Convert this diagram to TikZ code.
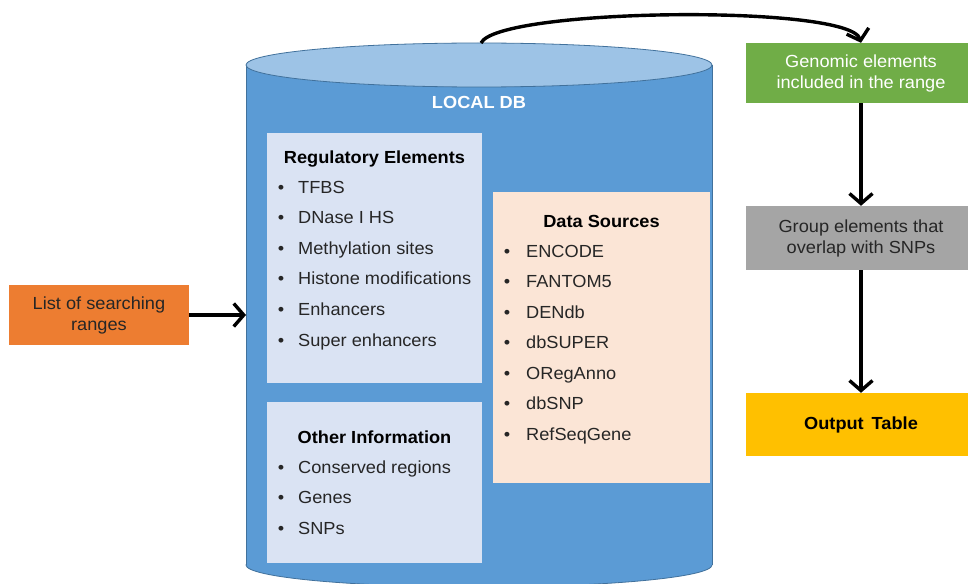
\documentclass[tikz,border=0pt]{standalone}
\usepackage{fontspec}
\setmainfont[FakeStretch=1.04]{Liberation Sans}
\usetikzlibrary{arrows.meta}
\definecolor{dbbody}{HTML}{5B9BD5}
\definecolor{dbtopc}{HTML}{9DC3E6}
\definecolor{dbline}{HTML}{41719C}
\definecolor{regfill}{HTML}{DAE3F3}
\definecolor{srcfill}{HTML}{FBE5D6}
\definecolor{orangefill}{HTML}{ED7D31}
\definecolor{greenfill}{HTML}{70AD47}
\definecolor{grayfill}{HTML}{A5A5A5}
\definecolor{yellowfill}{HTML}{FFC000}
\definecolor{txt}{HTML}{262626}
\begin{document}
\begin{tikzpicture}[x=1pt,y=-1pt,
  font=\fontsize{17.5}{21}\selectfont,
  flow/.style={line width=3.4pt, -{Straight Barb[length=10pt,width=23pt,line width=3.4pt]}},
  panel/.style={anchor=north west, inner sep=0pt, draw=none},
  itemtext/.style={anchor=base west, inner sep=0pt, text=txt},
  bul/.style={anchor=base, inner sep=0pt, text=txt},
  head/.style={anchor=base, inner sep=0pt, font=\fontsize{17.5}{21}\selectfont\bfseries, text=black},
  stepbox/.style={minimum width=230pt, minimum height=#1, inner sep=2pt, align=center, draw=none}
]
\useasboundingbox (0,0) rectangle (968,583);
\clip (0,0) rectangle (968,583);
\fill[white] (0,0) rectangle (968,583);

% cylinder
\filldraw[fill=dbbody, draw=dbline, line width=0.8pt] (479,565) ellipse [x radius=233, y radius=22];
\fill[dbbody] (246,65) rectangle (712,565);
\draw[dbline, line width=0.8pt] (246,65) -- (246,565);
\draw[dbline, line width=0.8pt] (712,65) -- (712,565);
\filldraw[fill=dbtopc, draw=dbline, line width=0.8pt] (479,65) ellipse [x radius=233, y radius=22];
\coordinate (dbtop) at (481,43);
\coordinate (dbleft) at (246,315);
\node[head, text=white] (dbtitle) at (479,109) {LOCAL DB};

% panels
\node[panel, fill=regfill, minimum width=215pt, minimum height=250pt] (reg) at (267,133) {};
\node[panel, fill=regfill, minimum width=215pt, minimum height=161pt] (oth) at (267,402) {};
\node[panel, fill=srcfill, minimum width=217pt, minimum height=291pt] (src) at (493,192) {};

% Regulatory elements
\node[head] (reghead) at (374.5,163) {Regulatory Elements};
\foreach \t [count=\i] in {TFBS, DNase I HS, Methylation sites, Histone modifications, Enhancers, Super enhancers} {
  \pgfmathsetmacro{\yy}{187+30.6*(\i-1)+6}
  \node[bul] (regb\i) at (281,\yy) {•};
  \node[itemtext] (regi\i) at (298,\yy) {\t};
}

% Other information
\node[head] (othhead) at (374.5,443) {Other Information};
\foreach \t [count=\i] in {Conserved regions, Genes, SNPs} {
  \pgfmathsetmacro{\yy}{467+30.8*(\i-1)+6}
  \node[bul] (othb\i) at (281,\yy) {•};
  \node[itemtext] (othi\i) at (298,\yy) {\t};
}

% Data sources
\node[head] (srchead) at (601.5,227) {Data Sources};
\foreach \t [count=\i] in {ENCODE, FANTOM5, DENdb, dbSUPER, ORegAnno, dbSNP, RefSeqGene} {
  \pgfmathsetmacro{\yy}{251+30.5*(\i-1)+6}
  \node[bul] (srcb\i) at (507,\yy) {•};
  \node[itemtext] (srci\i) at (526,\yy) {\t};
}

% left input
\node[fill=orangefill, minimum width=180pt, minimum height=60pt, align=center, inner sep=2pt, text=txt] (list) at (99,315) {List of searching\\ranges};

% right flow
\node[stepbox=60pt, fill=greenfill, text=white] (green) at (861,73) {Genomic elements\\included in the range};
\node[stepbox=64pt, fill=grayfill, text=txt] (gray) at (861,238) {Group elements that\\overlap with SNPs};
\node[stepbox=63pt, fill=yellowfill, text=black, font=\fontsize{17.5}{21}\selectfont\bfseries] (out) at (861,424.5) {Output\hspace{0.45em}Table};

% connectors
\draw[flow] (list.east) -- (dbleft);
\draw[flow] (dbtop) .. controls (498,8) and (850,4) .. (green.north);
\draw[flow] (green.south) -- (gray.north);
\draw[flow] (gray.south) -- (out.north);
\end{tikzpicture}
\end{document}
